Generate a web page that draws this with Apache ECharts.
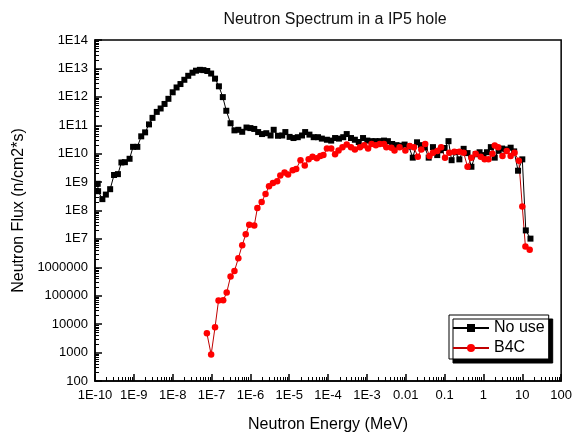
<!DOCTYPE html>
<html>
<head>
<meta charset="utf-8">
<script src="https://cdn.jsdelivr.net/npm/echarts@6/dist/echarts.min.js"></script>
<style>
html, body { margin: 0; padding: 0; background: #fff; }
#main { width: 575px; height: 438px; }
</style>
</head>
<body>
<div id="main"></div>
<script>
// values, stored as log10 (energy in MeV, flux in n/cm2*s)
var noUseLogE = [-9.93, -9.92, -9.81, -9.72, -9.61, -9.51, -9.41, -9.32, -9.23, -9.11,
	-9.02, -8.91, -8.81, -8.71, -8.61, -8.52, -8.41, -8.31, -8.21, -8.11,
	-8.00, -7.90, -7.80, -7.70, -7.60, -7.49, -7.40, -7.30, -7.21, -7.11,
	-7.01, -6.91, -6.81, -6.71, -6.62, -6.51, -6.41, -6.31, -6.21, -6.10,
	-6.00, -5.90, -5.80, -5.70, -5.59, -5.48, -5.40, -5.29, -5.18, -5.10,
	-4.99, -4.89, -4.78, -4.67, -4.59, -4.48, -4.37, -4.26, -4.16, -4.03,
	-3.92, -3.82, -3.72, -3.61, -3.52, -3.41, -3.31, -3.21, -3.10, -2.99,
	-2.88, -2.78, -2.67, -2.56, -2.46, -2.35, -2.24, -2.13, -2.03, -1.92,
	-1.82, -1.71, -1.61, -1.51, -1.41, -1.30, -1.19, -1.10, -1.00, -0.90,
	-0.82, -0.72, -0.62, -0.51, -0.41, -0.31, -0.20, -0.10, 0.00, 0.09,
	0.19, 0.29, 0.39, 0.48, 0.57, 0.70, 0.79, 0.89, 1.00, 1.09, 1.21];
var noUseLogFlux = [8.94, 8.68, 8.40, 8.56, 8.75, 9.25, 9.28, 9.69, 9.70, 9.82,
	10.24, 10.24, 10.61, 10.75, 11.03, 11.26, 11.47, 11.59, 11.75, 11.93,
	12.16, 12.33, 12.45, 12.60, 12.74, 12.85, 12.92, 12.95, 12.94, 12.91,
	12.82, 12.64, 12.37, 11.99, 11.51, 11.07, 10.82, 10.84, 10.77, 10.92,
	10.90, 10.87, 10.76, 10.69, 10.72, 10.64, 10.84, 10.63, 10.64, 10.76,
	10.59, 10.55, 10.58, 10.64, 10.76, 10.67, 10.58, 10.58, 10.53, 10.49,
	10.46, 10.55, 10.53, 10.58, 10.69, 10.55, 10.49, 10.41, 10.55, 10.46,
	10.44, 10.44, 10.44, 10.46, 10.44, 10.34, 10.30, 10.28, 10.32, 10.25,
	9.86, 10.40, 10.30, 10.22, 9.86, 10.23, 9.95, 10.12, 10.20, 10.44,
	9.77, 10.05, 9.80, 10.17, 10.02, 9.54, 9.98, 10.05, 9.95, 10.05,
	10.23, 9.86, 10.10, 10.18, 10.15, 10.21, 10.08, 9.40, 9.80, 7.30, 7.01];

var b4cLogE = [-7.12, -7.01, -6.91, -6.82, -6.70, -6.61, -6.51, -6.41, -6.31, -6.21,
	-6.12, -6.03, -5.90, -5.82, -5.71, -5.61, -5.52, -5.42, -5.31, -5.23,
	-5.12, -5.03, -4.91, -4.82, -4.71, -4.60, -4.50, -4.40, -4.29, -4.20,
	-4.12, -4.03, -3.92, -3.82, -3.73, -3.63, -3.52, -3.41, -3.31, -3.18,
	-3.07, -2.97, -2.88, -2.77, -2.67, -2.56, -2.50, -2.37, -2.29, -2.16,
	-2.01, -1.90, -1.79, -1.69, -1.60, -1.50, -1.39, -1.30, -1.19, -1.09,
	-0.99, -0.88, -0.75, -0.62, -0.51, -0.41, -0.31, -0.20, -0.07, 0.03,
	0.13, 0.23, 0.29, 0.38, 0.49, 0.60, 0.70, 0.80, 0.91, 1.00, 1.08, 1.19];
var b4cLogFlux = [3.68, 2.93, 3.89, 4.83, 4.84, 5.11, 5.68, 5.87, 6.32, 6.78,
	7.16, 7.50, 7.47, 8.09, 8.30, 8.58, 8.85, 8.97, 9.03, 9.23,
	9.34, 9.27, 9.42, 9.46, 9.77, 9.58, 9.80, 9.89, 9.84, 9.92,
	9.95, 10.18, 10.18, 9.98, 10.11, 10.23, 10.32, 10.23, 10.15, 10.23,
	10.30, 10.18, 10.34, 10.30, 10.34, 10.34, 10.23, 10.21, 10.11, 10.23,
	10.11, 10.27, 10.23, 9.89, 10.15, 10.34, 9.92, 10.03, 10.09, 10.23,
	9.86, 10.03, 10.07, 10.07, 10.03, 9.54, 9.86, 10.00, 9.89, 9.80,
	9.80, 10.00, 10.29, 10.23, 9.92, 10.09, 9.92, 10.03, 9.75, 8.14, 6.73, 6.62];

var xTicks = [1e-10, 1e-9, 1e-8, 1e-7, 1e-6, 1e-5, 1e-4, 1e-3, 1e-2, 1e-1, 1, 10, 100];
var xTickLabels = ['1E-10', '1E-9', '1E-8', '1E-7', '1E-6', '1E-5', '1E-4', '1E-3', '0.01', '0.1', '1', '10', '100'];
var yTicks = [1e2, 1e3, 1e4, 1e5, 1e6, 1e7, 1e8, 1e9, 1e10, 1e11, 1e12, 1e13, 1e14];
var yTickLabels = ['100', '1000', '10000', '100000', '1000000', '1E7', '1E8', '1E9', '1E10', '1E11', '1E12', '1E13', '1E14'];

function toPairs(logE, logF) {
	var out = [];
	for (var i = 0; i < logE.length; i++) {
		out.push([Math.pow(10, logE[i]), Math.pow(10, logF[i])]);
	}
	return out;
}
// minor ticks at 2..9 of every decade
function minorTicks(major) {
	var out = [];
	for (var i = 0; i < major.length - 1; i++) {
		for (var k = 2; k <= 9; k++) out.push(major[i] * k);
	}
	return out;
}

var FONT = 'Liberation Sans, Arial, sans-serif';
var myChart = echarts.init(document.getElementById('main'));
var option = {
	animation: false,
	backgroundColor: '#fff',
	title: {
		text: 'Neutron Spectrum in a IP5 hole',
		left: 330,
		textAlign: 'center',
		top: 7,
		textStyle: { fontFamily: FONT, fontSize: 16, fontWeight: 'normal', color: '#111' }
	},
	legend: {
		left: 449,
		top: 315,
		orient: 'vertical',
		itemWidth: 36,
		itemHeight: 10,
		itemGap: 4,
		padding: [5, 4, 3, 3],
		backgroundColor: '#fff',
		borderColor: '#000',
		borderWidth: 1,
		borderRadius: 0,
		shadowColor: '#000',
		shadowBlur: 0,
		shadowOffsetX: 4,
		shadowOffsetY: 4,
		textStyle: { fontFamily: FONT, fontSize: 16, color: '#000' },
		data: ['No use', 'B4C']
	},
	grid: {
		left: 95, right: 11, top: 40, bottom: 51,
		show: true,
		borderColor: '#000',
		borderWidth: 1.5,
		backgroundColor: '#fff'
	},
	xAxis: [
		{
			type: 'log',
			min: 1e-10, max: 100,
			position: 'bottom',
			name: 'Neutron Energy (MeV)',
			nameLocation: 'middle',
			nameGap: 36,
			nameTextStyle: { fontFamily: FONT, fontSize: 16, color: '#000' },
			axisLine: { lineStyle: { color: '#000', width: 1.5 } },
			axisTick: { inside: true, length: 7, customValues: xTicks, lineStyle: { color: '#000', width: 1.5 } },
			axisLabel: {
				customValues: xTicks,
				margin: 8,
				fontFamily: FONT, fontSize: 13, color: '#000',
				formatter: function (v) { return xTickLabels[Math.round(Math.log10(v)) + 10]; }
			},
			splitLine: { show: false },
			minorTick: { show: false }
		},
		{
			type: 'log',
			min: 1e-10, max: 100,
			position: 'bottom',
			axisLine: { show: false },
			axisTick: { show: true, inside: true, length: 4, customValues: minorTicks(xTicks), lineStyle: { color: '#000', width: 1 } },
			axisLabel: { show: false },
			splitLine: { show: false }
		}
	],
	yAxis: [
		{
			type: 'log',
			min: 100, max: 1e14,
			position: 'left',
			name: 'Neutron Flux (n/cm2*s)',
			nameLocation: 'middle',
			nameGap: 68,
			nameTextStyle: { fontFamily: FONT, fontSize: 16, color: '#000' },
			axisLine: { lineStyle: { color: '#000', width: 1.5 } },
			axisTick: { inside: true, length: 7, customValues: yTicks, lineStyle: { color: '#000', width: 1.5 } },
			axisLabel: {
				customValues: yTicks,
				margin: 7,
				fontFamily: FONT, fontSize: 13, color: '#000',
				formatter: function (v) { return yTickLabels[Math.round(Math.log10(v)) - 2]; }
			},
			splitLine: { show: false }
		},
		{
			type: 'log',
			min: 100, max: 1e14,
			position: 'left',
			axisLine: { show: false },
			axisTick: { show: true, inside: true, length: 4, customValues: minorTicks(yTicks), lineStyle: { color: '#000', width: 1 } },
			axisLabel: { show: false },
			splitLine: { show: false }
		}
	],
	series: [
		{
			name: 'No use',
			type: 'line',
			xAxisIndex: 0, yAxisIndex: 0,
			symbol: 'rect',
			symbolSize: 6,
			showAllSymbol: true,
			itemStyle: { color: '#000' },
			lineStyle: { color: '#000', width: 1 },
			data: toPairs(noUseLogE, noUseLogFlux)
		},
		{
			name: 'B4C',
			type: 'line',
			xAxisIndex: 0, yAxisIndex: 0,
			symbol: 'circle',
			symbolSize: 6.5,
			showAllSymbol: true,
			itemStyle: { color: '#ff0000' },
			lineStyle: { color: '#c00000', width: 1 },
			data: toPairs(b4cLogE, b4cLogFlux)
		}
	]
};
myChart.setOption(option);
</script>
</body>
</html>
